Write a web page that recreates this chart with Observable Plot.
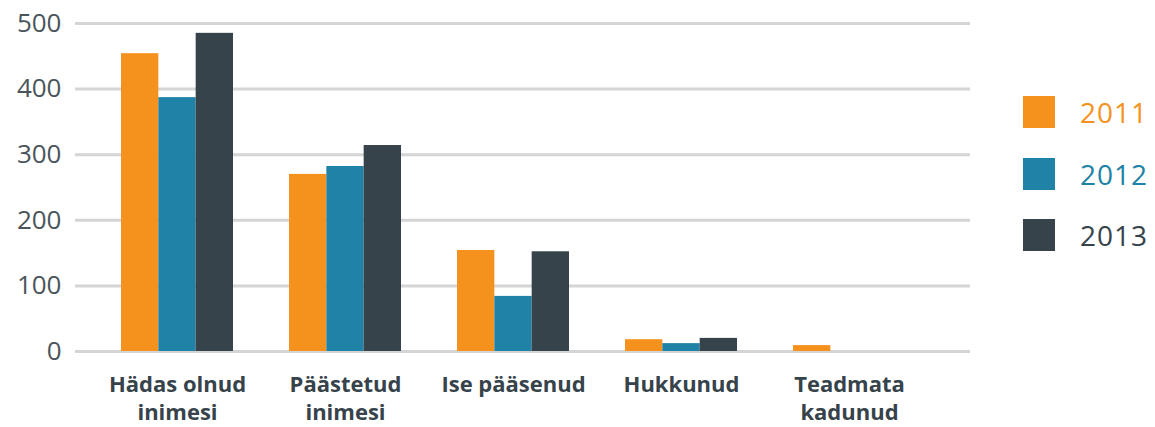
<!DOCTYPE html>
<html>
<head>
<meta charset="utf-8">
<script src="https://cdn.jsdelivr.net/npm/d3@7"></script>
<script src="https://cdn.jsdelivr.net/npm/@observablehq/plot@0.6"></script>
<style>
  html, body { margin: 0; padding: 0; background: #fff; }
  #wrap { position: relative; width: 1155px; height: 427px; font-family: "Open Sans", "Noto Sans", sans-serif; }
  #legend { position: absolute; left: 1023px; top: 93px; }
  .li { position: absolute; left: 0; display: flex; align-items: center; white-space: nowrap; }
  .sw { width: 32px; height: 32px; flex: none; }
  .lt { margin-left: 25px; font-size: 28px; font-weight: 400; letter-spacing: 1px; }
</style>
</head>
<body>
<div id="wrap"><div id="legend"></div></div>
<script>
const categories = ["Hädas olnud inimesi", "Päästetud inimesi", "Ise pääsenud", "Hukkunud", "Teadmata kadunud"];
const categoryLabels = ["Hädas olnud\ninimesi", "Päästetud\ninimesi", "Ise pääsenud", "Hukkunud", "Teadmata\nkadunud"];
const years = ["2011", "2012", "2013"];
const values2011 = [454, 270, 154, 18, 9];
const values2012 = [387, 282, 84, 12, 0];
const values2013 = [485, 314, 152, 20, 0];
const yTicks = [0, 100, 200, 300, 400, 500];
const colors = ["#f5921e", "#2082a6", "#36434a"];

const series = [values2011, values2012, values2013];
const rows = [];
categories.forEach((c, i) => years.forEach((y, j) => rows.push({category: c, year: y, value: series[j][i]})));
const labelRows = categories.map((c, i) => ({category: c, label: categoryLabels[i]}));

const groupWidth = 112;
const barW = groupWidth / years.length;

const barMarks = years.map((y, j) =>
  Plot.barY(rows.filter(r => r.year === y), {
    x: "category", y: "value", fill: "year",
    insetLeft: j * barW, insetRight: (years.length - 1 - j) * barW
  })
);

const chart = Plot.plot({
  width: 1155,
  height: 427,
  marginLeft: 75,
  marginRight: 185,
  marginTop: 23,
  marginBottom: 76,
  style: {fontFamily: "'Open Sans', 'Noto Sans', sans-serif", background: "transparent"},
  x: {domain: categories, range: [93, 933], paddingInner: 1/3, paddingOuter: 1/6, axis: null},
  y: {domain: [0, 500], axis: null},
  color: {domain: years, range: colors},
  marks: [
    Plot.ruleY(yTicks, {y: d => d, stroke: "#d4d5d7", strokeWidth: 3}),
    Plot.text(yTicks, {y: d => d, text: d => String(d), frameAnchor: "left", textAnchor: "end", dx: -14, fontSize: 26, fill: "#4a555b", letterSpacing: "0.5px"}),
    ...barMarks,
    Plot.text(labelRows, {x: "category", text: "label", frameAnchor: "bottom", lineAnchor: "top", dy: 20, fontSize: 22, fontWeight: "bold", fill: "#36434a", lineHeight: 1.28})
  ]
});
document.getElementById("wrap").prepend(chart);
chart.style.position = "absolute";
chart.style.left = "0";
chart.style.top = "0";

const legend = document.getElementById("legend");
years.forEach((y, j) => {
  const item = document.createElement("div");
  item.className = "li";
  item.style.top = (j * 61.5) + "px";
  item.innerHTML = `<div class="sw" style="background:${colors[j]}"></div><span class="lt" style="color:${colors[j]}">${y}</span>`;
  legend.appendChild(item);
});
</script>
</body>
</html>
